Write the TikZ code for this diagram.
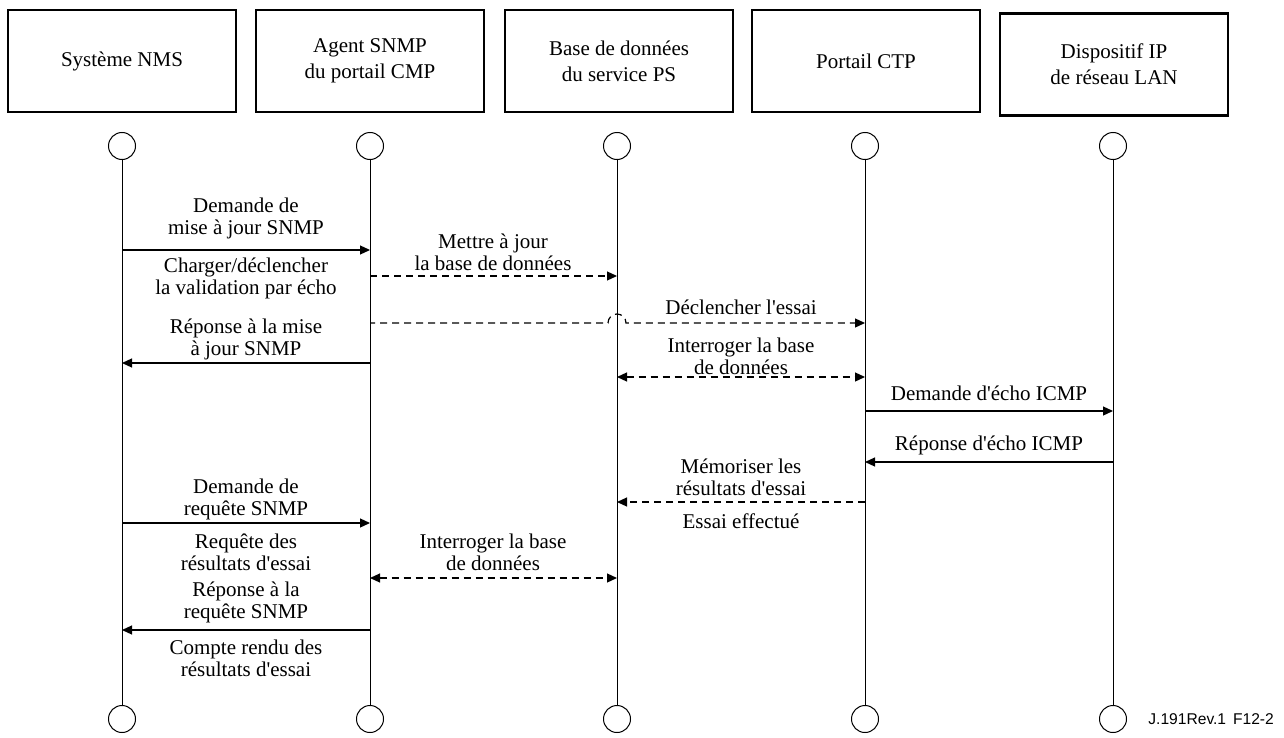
\documentclass[tikz,border=0pt]{standalone}
\usepackage{fontspec}
\setmainfont{Liberation Serif}
\newfontfamily\footfont{Liberation Sans}
\usetikzlibrary{arrows.meta,positioning}
\newcommand{\apos}{\textquotesingle}

\begin{document}
\begin{tikzpicture}[x=0.5pt,y=-0.5pt,
    entite/.style={draw,line width=1.2pt,minimum width=114pt,minimum height=51pt,
      align=center,inner sep=0pt,font=\fontsize{10.5}{13}\selectfont},
    bout/.style={draw,circle,minimum size=13.5pt,inner sep=0pt,line width=0.5pt},
    vie/.style={line width=0.5pt},
    msg/.style={line width=0.6pt,-{Triangle[length=5pt,width=4.5pt]}},
    msgd/.style={msg,dash pattern=on 3.5pt off 2.5pt},
    msgdd/.style={msgd,{Triangle[length=5pt,width=4.5pt]}-{Triangle[length=5pt,width=4.5pt]}},
    texte/.style={align=center,inner sep=0pt,font=\fontsize{10.5}{11}\selectfont}]

    \useasboundingbox (0,0) rectangle (1284,738);

    % entites du haut
    \foreach \n/\x/\y/\t in {
        1/122/61/{Système NMS},
        2/370/61/{Agent SNMP\\du portail CMP},
        3/619/61/{Base de données\\du service PS},
        4/866/61/{Portail CTP},
        5/1114/64.5/{Dispositif IP\\de réseau LAN}}{
      \node[entite] (e\n) at (\x,\y) {\t};
    }

    % lignes de vie
    \foreach \n/\x in {1/122,2/370,3/617,4/865,5/1113}{
      \node[bout] (h\n) at (\x,146) {};
      \node[bout] (b\n) at (\x,719) {};
      \draw[vie] (h\n) -- (b\n);
    }

    % mise a jour SNMP
    \draw[msg] (h1 |- 0,250) -- (h2 |- 0,250);
    \node[texte] (l1) at (246,218.5) {Demande de\\mise à jour SNMP};
    \node[texte] (l2) at (246,278.5) {Charger/déclencher\\la validation par écho};
    \draw[msgd] (h2 |- 0,276) -- (h3 |- 0,276);
    \node[texte] (l3) at (493,252.5) {Mettre à jour\\la base de données};

    % declenchement de l'essai (saut au-dessus du PS)
    \draw[msgd,dash phase=1pt] (h2 |- 0,323) -- (608,323)
      arc[start angle=180,end angle=0,radius=4.5pt] -- (h4 |- 0,323);
    \node[texte] (l4) at (741,307) {Déclencher l\apos essai};
    \draw[msg] (h2 |- 0,363) -- (h1 |- 0,363);
    \node[texte] (l5) at (246,339) {Réponse à la mise\\à jour SNMP};
    \draw[msgdd] (h3 |- 0,377) -- (h4 |- 0,377);
    \node[texte] (l6) at (741,356) {Interroger la base\\de données};

    % echo ICMP
    \draw[msg] (h4 |- 0,411) -- (h5 |- 0,411);
    \node[texte] (l7) at (989,393) {Demande d\apos écho ICMP};
    \draw[msg] (h5 |- 0,462) -- (h4 |- 0,462);
    \node[texte] (l8) at (989,445) {Réponse d\apos écho ICMP};
    \draw[msgd] (h4 |- 0,502) -- (h3 |- 0,502);
    \node[texte] (l9) at (741,477) {Mémoriser les\\résultats d\apos essai};
    \node[texte] (l10) at (741,521) {Essai effectué};

    % requete SNMP
    \draw[msg] (h1 |- 0,523) -- (h2 |- 0,523);
    \node[texte] (l11) at (246,499) {Demande de\\requête SNMP};
    \node[texte] (l12) at (246,552.5) {Requête des\\résultats d\apos essai};
    \draw[msgdd] (h2 |- 0,578) -- (h3 |- 0,578);
    \node[texte] (l13) at (493,552.5) {Interroger la base\\de données};
    \draw[msg] (h2 |- 0,630) -- (h1 |- 0,630);
    \node[texte] (l14) at (246,602.5) {Réponse à la\\requête SNMP};
    \node[texte] (l15) at (246,658.5) {Compte rendu des\\résultats d\apos essai};

    \node[anchor=west,inner sep=0pt,font=\footfont\fontsize{7.8}{9}\selectfont] (ref) at (1148,719) {J.191Rev.1\,~F12-2};
  \end{tikzpicture}
\end{document}
